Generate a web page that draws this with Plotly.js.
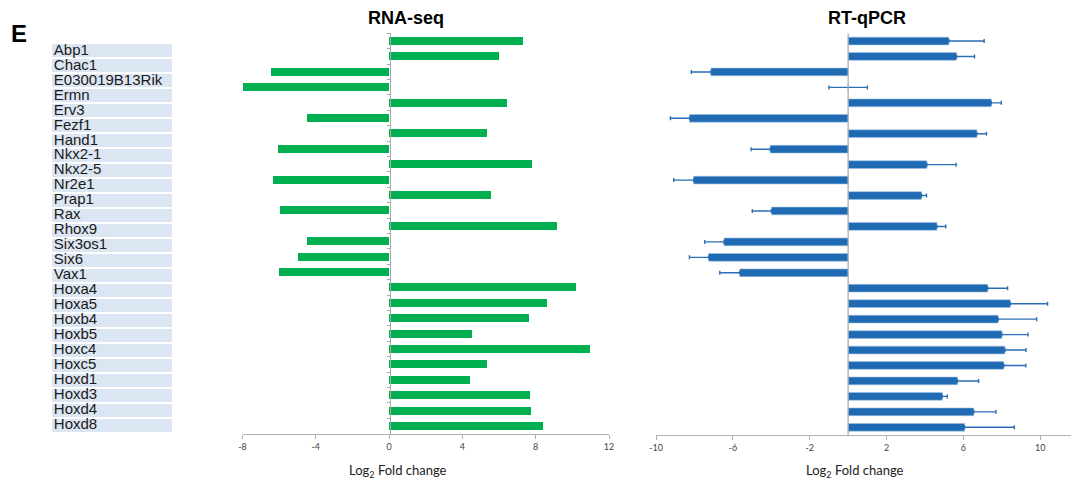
<!DOCTYPE html>
<html><head><meta charset="utf-8">
<script src="https://cdn.plot.ly/plotly-3.0.1.min.js"></script>
<style>html,body{margin:0;padding:0;background:#fff}#c{width:1072px;height:482px}</style>
</head><body><div id="c"></div>
<script>
const genes = ["Abp1","Chac1","E030019B13Rik","Ermn","Erv3","Fezf1","Hand1","Nkx2-1","Nkx2-5","Nr2e1","Prap1","Rax","Rhox9","Six3os1","Six6","Vax1","Hoxa4","Hoxa5","Hoxb4","Hoxb5","Hoxc4","Hoxc5","Hoxd1","Hoxd3","Hoxd4","Hoxd8"];
const rnaseq = [7.3,6.0,-6.44,-8.0,6.44,-4.49,5.33,-6.07,7.8,-6.31,5.58,-5.96,9.15,-4.5,-4.98,-6.02,10.18,8.6,7.66,4.53,10.95,5.33,4.42,7.71,7.76,8.4];
const qpcr = [5.24,5.64,-7.14,0,7.45,-8.25,6.7,-4.05,4.1,-8.04,3.82,-3.99,4.62,-6.46,-7.26,-5.64,7.26,8.44,7.81,8.0,8.16,8.1,5.69,4.9,6.54,6.06];
const qpcrErr = [1.84,0.94,1.02,1.0,0.52,1.0,0.5,1.0,1.52,1.04,0.26,1.0,0.46,1.0,1.0,1.04,1.04,1.94,2.0,1.36,1.1,1.15,1.1,0.26,1.15,2.59];
const rnaTicks = [-8,-4,0,4,8,12];
const qpcrTicks = [-10,-6,-2,2,6,10];

const W=1072,H=482;
const fx = p => p/W;
const fy = p => (H-p)/H;

const errPlus = qpcr.map((v,i)=> v>=0 ? qpcrErr[i] : 0);
const errMinus = qpcr.map((v,i)=> v<=0 ? qpcrErr[i] : 0);

const traces = [
 {type:'bar', orientation:'h', x:genes.map(()=>1), y:genes, base:0, width:0.87,
  marker:{color:'#dce6f2'}, xaxis:'x3', yaxis:'y3', hoverinfo:'skip'},
 {type:'scatter', mode:'text', x:genes.map(()=>0.015), y:genes, text:genes, textposition:'middle right',
  textfont:{family:'Liberation Sans, Arial', size:15, color:'#1a1a1a'}, xaxis:'x3', yaxis:'y3', cliponaxis:false, hoverinfo:'skip'},
 {type:'bar', orientation:'h', x:rnaseq, y:genes, width:0.53, marker:{color:'#00b050'}, xaxis:'x', yaxis:'y'},
 {type:'bar', orientation:'h', x:qpcr, y:genes, width:0.5, marker:{color:'#1f6bb3', line:{color:'#9dbfe3', width:0.6}},
  error_x:{type:'data', symmetric:false, array:errPlus, arrayminus:errMinus, color:'#2a6fb5', thickness:1.4, width:2},
  xaxis:'x2', yaxis:'y2'}
];

const tickFont = {family:'Lato, Liberation Sans', size:9, color:'#444'};
const layout = {
 width:W, height:H, margin:{l:0,r:0,t:0,b:0}, showlegend:false,
 paper_bgcolor:'#fff', plot_bgcolor:'rgba(0,0,0,0)', bargap:0,
 xaxis:{domain:[fx(242.5),fx(609)], range:[-8,12], tickvals:rnaTicks, ticktext:rnaTicks.map(String),
   showgrid:false, zeroline:false, showline:true, linecolor:'#b0b0b0', linewidth:1,
   ticks:'outside', ticklen:4, tickcolor:'#b0b0b0', tickfont:tickFont, anchor:'y'},
 yaxis:{domain:[fy(433.7),fy(33.3)], type:'category', range:[25.5,-0.5], showticklabels:false,
   showgrid:false, zeroline:false, showline:true, linecolor:'#a8a8a8', linewidth:1.2,
   ticks:'outside', tickson:'boundaries', ticklen:3, tickcolor:'#a8a8a8', tickwidth:1,
   anchor:'free', overlaying:false, position:fx(390.2)},
 xaxis2:{domain:[fx(656),fx(1071)], range:[-10,11.6], tickvals:qpcrTicks, ticktext:qpcrTicks.map(String),
   showgrid:false, zeroline:false, showline:true, linecolor:'#b0b0b0', linewidth:1,
   ticks:'outside', ticklen:4, tickcolor:'#b0b0b0', tickfont:tickFont, anchor:'y2'},
 yaxis2:{domain:[fy(435),fy(33.3)], type:'category', range:[25.5,-0.5], showticklabels:false,
   showgrid:false, zeroline:false, showline:false, anchor:'x2'},
 xaxis3:{domain:[fx(52),fx(172)], range:[0,1], visible:false, fixedrange:true, anchor:'y3'},
 yaxis3:{domain:[fy(432.5),fy(43.5)], type:'category', range:[25.5,-0.5], visible:false, anchor:'x3'},
 shapes:[
  {type:'line', xref:'x2', yref:'y2 domain', x0:0, x1:0, y0:0, y1:1, line:{color:'#a8a8a8', width:1.2}}
 ],
 annotations:[
  {text:'<b>E</b>', xref:'paper', yref:'paper', x:fx(9), y:fy(34), xanchor:'left', yanchor:'middle', showarrow:false,
   font:{family:'Liberation Sans, Arial', size:24, color:'#000'}},
  {text:'<b>RNA-seq</b>', xref:'paper', yref:'paper', x:fx(406), y:fy(18), xanchor:'center', yanchor:'middle', showarrow:false,
   font:{family:'Liberation Sans, Arial', size:18, color:'#000'}},
  {text:'<b>RT-qPCR</b>', xref:'paper', yref:'paper', x:fx(867), y:fy(18), xanchor:'center', yanchor:'middle', showarrow:false,
   font:{family:'Liberation Sans, Arial', size:18, color:'#000'}},
  {text:'Log<sub>2</sub> Fold change', xref:'paper', yref:'paper', x:fx(398), y:fy(471), xanchor:'center', yanchor:'middle', showarrow:false,
   font:{family:'Lato, Liberation Sans', size:13, color:'#222'}},
  {text:'Log<sub>2</sub> Fold change', xref:'paper', yref:'paper', x:fx(855), y:fy(471), xanchor:'center', yanchor:'middle', showarrow:false,
   font:{family:'Lato, Liberation Sans', size:13, color:'#222'}}
 ]
};
Plotly.newPlot('c', traces, layout, {displayModeBar:false, staticPlot:true});
</script></body></html>
